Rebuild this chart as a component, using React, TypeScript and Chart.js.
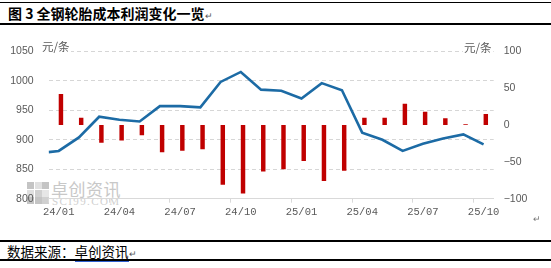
import React, { useEffect, useRef } from 'react';
import { Chart, registerables } from 'chart.js';

Chart.register(...registerables);

const categories = [
  '24/01', '24/02', '24/03', '24/04', '24/05', '24/06', '24/07', '24/08', '24/09', '24/10', '24/11', '24/12',
  '25/01', '25/02', '25/03', '25/04', '25/05', '25/06', '25/07', '25/08', '25/09', '25/10',
];
// cost line (元/条): lead-in point at the axis edge, then one per month
const costLine = [879, 881, 904, 939, 934, 931, 957, 957, 955, 998, 1015, 985, 983, 970, 996, 984, 912, 900, 881, 893, 902, 909, 892];
const costLinePos = [-0.5, 0, 1, 2, 3, 4, 5, 6, 7, 8, 9, 10, 11, 12, 13, 14, 15, 16, 17, 18, 19, 20, 21];
// profit bars (元/条)
const profitValues = [42, 10, -24, -21, -14, -37, -35, -33, -81, -93, -63, -60, -49, -76, -62, 10, 10, 29, 18, 9, 1, 15];
const leftTicks = [800, 850, 900, 950, 1000, 1050];
const rightTicks = [-100, -50, 0, 50, 100];
const labelEvery = 3;

const AXIS_FONT = "'Liberation Sans', Arial, sans-serif";
const CJK_FONT = "'Noto Sans CJK SC', sans-serif";

function ChartCanvas() {
  const ref = useRef<HTMLCanvasElement | null>(null);
  useEffect(() => {
    if (!ref.current) return;
    const chart = new Chart(ref.current, {
      data: {
        labels: categories,
        datasets: [
          {
            type: 'line',
            label: '成本',
            data: costLine.map((v, i) => ({ x: costLinePos[i], y: v })),
            xAxisID: 'xl',
            yAxisID: 'y',
            borderColor: '#1c6ba5',
            borderWidth: 2.6,
            pointRadius: 0,
            tension: 0,
            order: 0,
          } as any,
          {
            type: 'bar',
            label: '利润',
            data: profitValues,
            xAxisID: 'x',
            yAxisID: 'y1',
            backgroundColor: '#c00000',
            barPercentage: 1,
            categoryPercentage: 0.44,
            order: 1,
          } as any,
        ],
      },
      options: {
        responsive: false,
        animation: false,
        devicePixelRatio: 1,
        layout: { padding: { top: 15, left: 0, right: 0, bottom: 0 } },
        plugins: { legend: { display: false }, tooltip: { enabled: false } },
        scales: {
          x: {
            type: 'category',
            offset: true,
            grid: {
              offset: true,
              drawOnChartArea: false,
              drawTicks: true,
              tickLength: 4,
              tickColor: (ctx: any) => (ctx.index % labelEvery === 0 ? '#d9d9d9' : 'rgba(0,0,0,0)'),
            },
            border: { display: true, color: '#d9d9d9', width: 1 },
            ticks: {
              autoSkip: false,
              maxRotation: 0,
              padding: 3,
              color: '#595959',
              font: { family: "'Liberation Mono', monospace", size: 10.5 },
              callback: (_v: any, i: number) => (i % labelEvery === 0 ? categories[i] : ''),
            },
            afterFit: (s: any) => { s.height = 19.5; },
          },
          xl: {
            type: 'linear',
            display: false,
            min: -0.5,
            max: categories.length - 0.5,
          },
          y: {
            type: 'linear',
            position: 'left',
            min: leftTicks[0],
            max: leftTicks[leftTicks.length - 1],
            afterBuildTicks: (s: any) => { s.ticks = leftTicks.map((v) => ({ value: v })); },
            grid: {
              color: (ctx: any) => (ctx.tick && ctx.tick.value === leftTicks[0] ? 'rgba(0,0,0,0)' : '#d6d6d6'),
              drawTicks: false,
              lineWidth: 1,
            },
            border: { display: false, dash: [4, 3] },
            ticks: {
              padding: 15,
              color: '#595959',
              font: { family: AXIS_FONT, size: 10.5 },
              callback: (v: any) => String(v),
            },
            afterFit: (s: any) => { s.width = 48.6; },
          },
          y1: {
            type: 'linear',
            position: 'right',
            min: rightTicks[0],
            max: rightTicks[rightTicks.length - 1],
            afterBuildTicks: (s: any) => { s.ticks = rightTicks.map((v) => ({ value: v })); },
            grid: { display: false, drawTicks: false },
            border: { display: false },
            ticks: {
              padding: 10,
              color: '#595959',
              font: { family: AXIS_FONT, size: 10.5 },
              callback: (v: any) => (Number(v) < 0 ? '\u2212' + Math.abs(Number(v)) : String(v)),
            },
            afterFit: (s: any) => { s.width = 57.3; },
          },
        },
      } as any,
    });
    return () => chart.destroy();
  }, []);
  return <canvas ref={ref} width={551} height={190} style={{ display: 'block', width: 551, height: 190 }} />;
}

const grayLogo = ['#c4c4c4', '#e0e0e0', '#c4c4c4', '#e0e0e0', '#d0d0d0', '#e6e6e6', '#c4c4c4', '#c4c4c4', '#d0d0d0'];

export default function App() {
  return (
    <div style={{ position: 'absolute', left: 0, top: 0, width: 551, height: 268, background: '#fff', overflow: 'hidden' }}>
      {/* top rules and title */}
      <div style={{ position: 'absolute', left: 0, top: 2, width: 551, height: 1, background: '#000' }} />
      <div style={{ position: 'absolute', left: 8, top: 5, fontFamily: CJK_FONT, fontWeight: 700, fontSize: 14, lineHeight: '17px', color: '#000', whiteSpace: 'nowrap' }}>
        图 3 全钢轮胎成本利润变化一览<span style={{ fontWeight: 400, fontSize: 9, color: '#555' }}>↵</span>
      </div>
      <div style={{ position: 'absolute', left: 0, top: 23, width: 551, height: 1.5, background: '#000' }} />

      {/* watermark */}
      <div style={{ position: 'absolute', left: 27, top: 182, width: 22, height: 22, display: 'grid', gridTemplateColumns: 'repeat(3, 7px)', gridTemplateRows: 'repeat(3, 7px)', gap: 0.5 }}>
        {grayLogo.map((c, i) => <div key={i} style={{ background: c }} />)}
      </div>
      <div style={{ position: 'absolute', left: 51, top: 179, fontFamily: CJK_FONT, fontSize: 17, lineHeight: '19px', color: '#c8c8c8', letterSpacing: 0.5, whiteSpace: 'nowrap' }}>卓创资讯</div>
      <div style={{ position: 'absolute', left: 52, top: 196, fontFamily: "'Liberation Serif', serif", fontSize: 11, lineHeight: '11px', color: '#d0d0d0', letterSpacing: 1.4, whiteSpace: 'nowrap' }}>SCI99.COM</div>

      {/* chart */}
      <div style={{ position: 'absolute', left: 0, top: 30, width: 551, height: 190 }}>
        <ChartCanvas />
      </div>

      {/* axis units */}
      <div style={{ position: 'absolute', left: 41, top: 39, padding: '0 1px', background: '#fff', fontFamily: CJK_FONT, fontSize: 11.5, lineHeight: '15px', color: '#595959', whiteSpace: 'nowrap' }}>元/条</div>
      <div style={{ position: 'absolute', left: 463, top: 40, padding: '0 1px', background: '#fff', fontFamily: CJK_FONT, fontSize: 11.5, lineHeight: '15px', color: '#595959', whiteSpace: 'nowrap' }}>元/条</div>

      <div style={{ position: 'absolute', left: 533, top: 212, fontSize: 9, color: '#777', fontFamily: CJK_FONT }}>↵</div>

      {/* source */}
      <div style={{ position: 'absolute', left: 0, top: 240, width: 551, height: 1.5, background: '#000' }} />
      <div style={{ position: 'absolute', left: 7, top: 243, fontFamily: CJK_FONT, fontSize: 13.5, lineHeight: '17px', color: '#000', whiteSpace: 'nowrap' }}>
        数据来源：<span style={{ borderBottom: '1.5px solid #2f5fd0' }}>卓创资讯</span><span style={{ fontSize: 9, color: '#555' }}>↵</span>
      </div>
      <div style={{ position: 'absolute', left: 0, top: 259, width: 551, height: 1.5, background: '#000' }} />
    </div>
  );
}
